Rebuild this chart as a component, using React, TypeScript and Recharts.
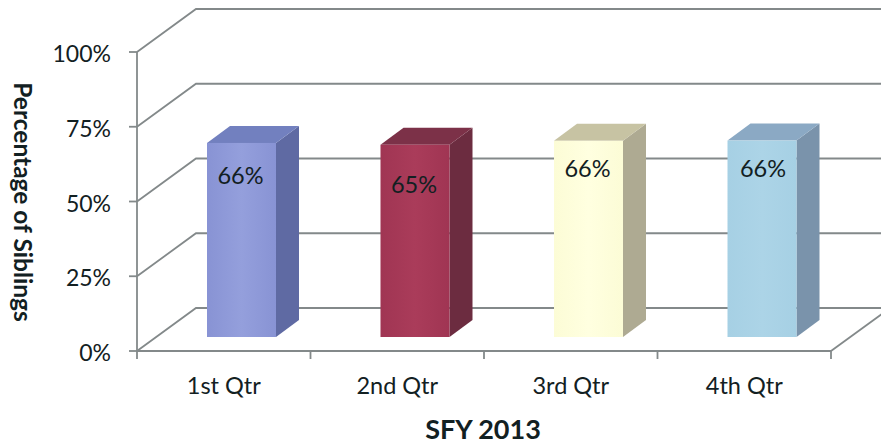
import React from 'react';
import { ComposedChart, Bar, XAxis, YAxis, CartesianGrid, LabelList, Label } from 'recharts';

const quarters = ['1st Qtr', '2nd Qtr', '3rd Qtr', '4th Qtr'];
const barHeights = [64.9, 64.3, 65.6, 65.7];
const barLabels = ['66%', '65%', '66%', '66%'];
const yTicks = [0, 25, 50, 75, 100];

const chartData = quarters.map((quarter, i) => ({
  quarter,
  value: barHeights[i],
  label: barLabels[i],
}));

// cores de cada barra: frente (claro/escuro), topo, lateral
const barColors = [
  { front1: '#949fdc', front2: '#8893d4', top: '#7280bf', side: '#5f6aa3' },
  { front1: '#aa3c5a', front2: '#a03553', top: '#7c3148', side: '#6c2c40' },
  { front1: '#ffffe0', front2: '#fcfcd6', top: '#c7c3a3', side: '#aeaa92' },
  { front1: '#acd4e7', front2: '#a6d0e4', top: '#8ba9c4', side: '#7a93ab' },
];

const WIDTH = 881;
const HEIGHT = 444;
const PLOT_LEFT = 137;
const PLOT_RIGHT = 831;
const PLOT_TOP = 52;
const PLOT_BOTTOM = 351;
const CATEGORY_WIDTH = (PLOT_RIGHT - PLOT_LEFT) / quarters.length;

// deslocamentos da perspectiva
const WALL_DX = 59;
const WALL_DY = -43;
const BAR_DX = 18;
const BAR_DY = -14;
const DEPTH_DX = 23;
const DEPTH_DY = -17;
const LABEL_DROP = [32, 39, 27, 27];
const LABEL_SHIFT = [-1, -1, -1, 1];

const AXIS_COLOR = '#83898a';
const LINE_WIDTH = 1.8;
const FONT = 'Lato, "Open Sans", sans-serif';
const TEXT_COLOR = '#122022';

const Bar3D = (props: any) => {
  const { x, y, width, height, index } = props;
  const c = barColors[index];
  const l = x + BAR_DX;
  const t = y + BAR_DY;
  const r = l + width;
  const b = t + height;
  return (
    <g>
      <polygon
        points={`${r},${t} ${r + DEPTH_DX},${t + DEPTH_DY} ${r + DEPTH_DX},${b + DEPTH_DY} ${r},${b}`}
        fill={c.side}
      />
      <polygon
        points={`${l},${t} ${l + DEPTH_DX},${t + DEPTH_DY} ${r + DEPTH_DX},${t + DEPTH_DY} ${r},${t}`}
        fill={c.top}
      />
      <rect x={l} y={t} width={width} height={height} fill={`url(#front${index})`} />
    </g>
  );
};

const GridLine = (props: any) => {
  const { x1, y1, x2 } = props;
  const isFloor = Math.abs(y1 - PLOT_BOTTOM) < 1;
  return (
    <g fill="none" stroke={AXIS_COLOR} strokeWidth={LINE_WIDTH}>
      <polyline
        points={`${x1},${y1} ${x1 + WALL_DX},${y1 + WALL_DY} ${x2 + WALL_DX},${y1 + WALL_DY}`}
      />
      {isFloor && <line x1={x2} y1={y1} x2={x2 + WALL_DX} y2={y1 + WALL_DY} />}
    </g>
  );
};

const QuarterTick = (props: any) => {
  const { x, payload, index } = props;
  const left = x - CATEGORY_WIDTH / 2;
  const right = x + CATEGORY_WIDTH / 2;
  return (
    <g>
      <line x1={left} y1={PLOT_BOTTOM} x2={left} y2={PLOT_BOTTOM + 8} stroke={AXIS_COLOR} strokeWidth={LINE_WIDTH} />
      {index === quarters.length - 1 && (
        <line x1={right} y1={PLOT_BOTTOM} x2={right} y2={PLOT_BOTTOM + 8} stroke={AXIS_COLOR} strokeWidth={LINE_WIDTH} />
      )}
      <text x={x} y={394} textAnchor="middle" fontSize={23.5} fontFamily={FONT} fill={TEXT_COLOR}>
        {payload.value}
      </text>
    </g>
  );
};

const ValueTick = (props: any) => {
  const { x, y, payload } = props;
  return (
    <text x={x} y={y + 10} textAnchor="end" fontSize={23} fontFamily={FONT} fill={TEXT_COLOR}>
      {`${payload.value}%`}
    </text>
  );
};

const BarLabel = (props: any) => {
  const { x, y, width, value, index } = props;
  return (
    <text
      x={x + BAR_DX + width / 2 + LABEL_SHIFT[index]}
      y={y + BAR_DY + LABEL_DROP[index] + 9}
      textAnchor="middle"
      fontSize={23.5}
      fontFamily={FONT}
      fill={TEXT_COLOR}
    >
      {value}
    </text>
  );
};

export default function App() {
  return (
    <div style={{ position: 'absolute', left: 0, top: 0, width: WIDTH, height: HEIGHT, background: '#fff' }}>
      <ComposedChart
        width={WIDTH}
        height={HEIGHT}
        data={chartData}
        margin={{ top: PLOT_TOP, right: WIDTH - PLOT_RIGHT, bottom: 0, left: 0 }}
      >
        <defs>
          {barColors.map((c, i) => (
            <linearGradient key={i} id={`front${i}`} x1="0" y1="0" x2="1" y2="0">
              <stop offset="0%" stopColor={c.front2} />
              <stop offset="50%" stopColor={c.front1} />
              <stop offset="100%" stopColor={c.front2} />
            </linearGradient>
          ))}
        </defs>
        <CartesianGrid vertical={false} horizontal={GridLine} />
        <XAxis
          dataKey="quarter"
          height={HEIGHT - PLOT_BOTTOM}
          tick={QuarterTick}
          tickLine={false}
          interval={0}
          stroke={AXIS_COLOR}
          strokeWidth={LINE_WIDTH}
        >
          <Label
            content={() => (
              <text
                x={483}
                y={439}
                textAnchor="middle"
                fontSize={27}
                fontWeight="bold"
                fontFamily={FONT}
                fill={TEXT_COLOR}
              >
                SFY 2013
              </text>
            )}
          />
        </XAxis>
        <YAxis
          width={PLOT_LEFT}
          domain={[0, 100]}
          ticks={yTicks}
          tick={ValueTick}
          tickSize={8}
          tickMargin={18}
          stroke={AXIS_COLOR}
          strokeWidth={LINE_WIDTH}
        >
          <Label
            content={() => (
              <text
                transform="translate(14,202) rotate(90)"
                textAnchor="middle"
                fontSize={24.5}
                fontWeight="bold"
                fontFamily={FONT}
                fill={TEXT_COLOR}
              >
                Percentage of Siblings
              </text>
            )}
          />
        </YAxis>
        <Bar dataKey="value" barSize={69} shape={Bar3D} isAnimationActive={false}>
          <LabelList dataKey="label" content={BarLabel} />
        </Bar>
      </ComposedChart>
    </div>
  );
}
